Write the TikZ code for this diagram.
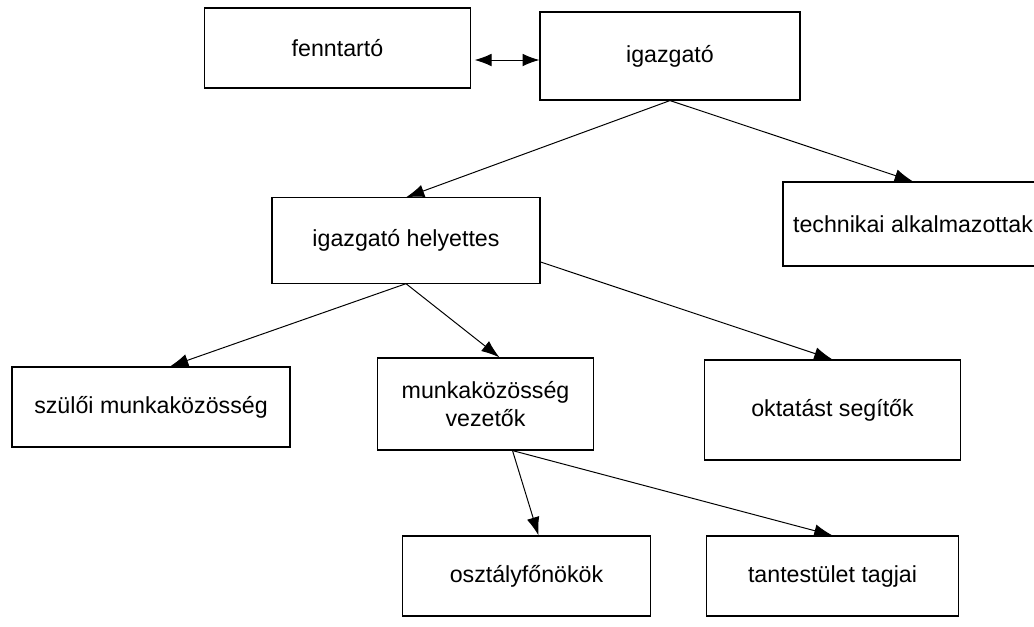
\documentclass[tikz,border=0pt]{standalone}
\usepackage{fontspec}
\setmainfont{Liberation Sans}
\usetikzlibrary{arrows.meta, positioning, calc}

\tikzset{
  box/.style={draw, line width=0.8pt, inner sep=2pt, align=center,
    font=\fontsize{16.5}{20}\selectfont},
  pfeil/.style={line width=0.7pt, -{Latex[length=13pt,width=9pt]}},
  doppelpfeil/.style={line width=0.7pt, {Latex[length=12pt,width=9pt]}-{Latex[length=12pt,width=9pt]}}
}

\begin{document}
\begin{tikzpicture}[x=0.025cm, y=-0.025cm]

\clip (0,0) rectangle (1034,626);

% Kaesten
\node[box, minimum width=6.63cm, minimum height=2cm] (ft) at (337.5,48) {fenntart\'o};
\node[box, minimum width=6.5cm, minimum height=2.2cm] (ig) at (670,56) {igazgat\'o};

\node[box, minimum width=6.5cm, minimum height=2.1cm] (ta) at (913,224) {technikai alkalmazottak};
\node[box, minimum width=6.7cm, minimum height=2.13cm] (ih) at (406,240.5) {igazgat\'o helyettes};

\node[box, minimum width=6.95cm, minimum height=2cm] (sz) at (151,407) {sz\"ul\H{o}i munkak\"oz\"oss\'eg};
\node[box, minimum width=5.38cm, minimum height=2.3cm] (mv) at (485.5,404) {munkak\"oz\"oss\'eg\\vezet\H{o}k};
\node[box, minimum width=6.38cm, minimum height=2.5cm] (os) at (832.5,410) {oktat\'ast seg\'it\H{o}k};

\node[box, minimum width=6.18cm, minimum height=2cm] (of) at (526.5,576) {oszt\'alyf\H{o}n\"ok\"ok};
\node[box, minimum width=6.28cm, minimum height=2cm] (tt) at (832.5,576) {tantest\"ulet tagjai};

% Hilfspunkte
\coordinate (P) at ($(ig.west)+(0,4)$);
\coordinate (Q) at ($(ih.east)+(0,21.5)$);
\coordinate (R) at ($(mv.south)+(27,0)$);

% Verbindungen
\draw[doppelpfeil] ($(ft.east |- P)+(4,0)$) -- (P);

\draw[pfeil] (ig.south) -- (ih.north);
\draw[pfeil] (ig.south) -- (ta.north);

\draw[pfeil] (ih.south) -- ($(sz.north)+(19,0)$);
\draw[pfeil] (ih.south) -- ($(mv.north)+(14,0)$);
\draw[pfeil] (Q) -- (os.north);

\draw[pfeil] (R) -- ($(of.north)+(12,0)$);
\draw[pfeil] (R) -- (tt.north);

\end{tikzpicture}
\end{document}
